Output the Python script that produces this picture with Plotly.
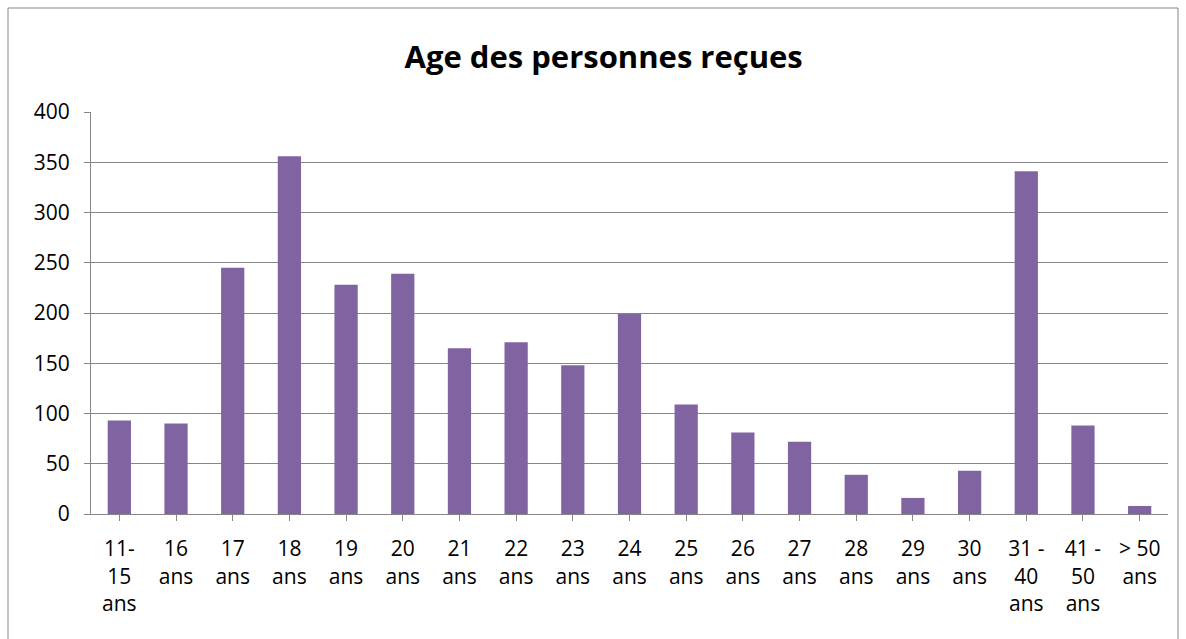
import plotly.graph_objects as go

categories = ["11-<br>15<br>ans", "16<br>ans", "17<br>ans", "18<br>ans", "19<br>ans", "20<br>ans",
              "21<br>ans", "22<br>ans", "23<br>ans", "24<br>ans", "25<br>ans", "26<br>ans",
              "27<br>ans", "28<br>ans", "29<br>ans", "30<br>ans", "31 -<br>40<br>ans",
              "41 -<br>50<br>ans", "> 50<br>ans"]
values = [93, 90, 245, 356, 228, 239, 165, 171, 148, 199, 109, 81, 72, 39, 16, 43, 341, 88, 8]
title_text = "Age des personnes reçues"

FONT = "Open Sans"
GRID = "#868686"
TICKSIZE = 21

fig = go.Figure(go.Bar(x=list(range(len(categories))), y=values,
                       marker=dict(color="#8064A2", line=dict(width=0)),
                       width=0.41))

fig.update_layout(
    width=1186, height=639,
    margin=dict(l=91, r=18, t=112, b=125),
    paper_bgcolor="white", plot_bgcolor="white",
    showlegend=False,
    title=dict(text="<b>" + title_text + "</b>", x=0.509, xanchor="center",
               y=0.91, yanchor="middle",
               font=dict(family=FONT, size=31, color="black")),
    font=dict(family=FONT, size=TICKSIZE, color="black"),
    xaxis=dict(tickmode="array", tickvals=list(range(len(categories))), ticktext=categories,
               range=[-0.5, len(categories) - 0.5], tickson="boundaries",
               ticks="outside", ticklen=6, tickcolor=GRID, showline=True, linecolor=GRID,
               linewidth=1, showgrid=False, tickangle=0, zeroline=False,
               ticklabelstandoff=10,
               tickfont=dict(family=FONT, size=TICKSIZE, color="black")),
    yaxis=dict(range=[0, 400], dtick=50, tick0=0, ticks="outside", ticklen=6,
               tickcolor=GRID, showline=True, linecolor=GRID, linewidth=1,
               showgrid=True, gridcolor=GRID, gridwidth=1, zeroline=False,
               ticklabelstandoff=10,
               tickfont=dict(family=FONT, size=TICKSIZE, color="black")),
    shapes=[dict(type="rect", xref="paper", yref="paper",
                 x0=(8 - 91) / 1077, x1=(1178 - 91) / 1077,
                 y0=(514 - 660) / 402, y1=(514 - 8) / 402,
                 line=dict(color=GRID, width=1), fillcolor="rgba(0,0,0,0)", layer="below")],
)

fig.write_html("out.html", config={"displayModeBar": False},
               post_script="document.body.style.margin='0';document.body.style.overflow='hidden';")
